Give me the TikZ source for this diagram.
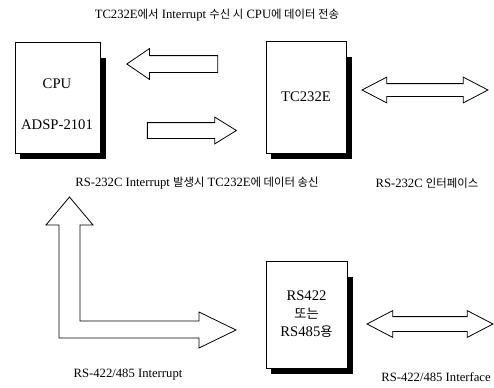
\documentclass[tikz,border=0pt]{standalone}
\usepackage{fontspec}
\setmainfont{Liberation Serif}
\newfontfamily\krfont[Scale=0.9]{Noto Sans CJK KR}
\newcommand{\kr}[1]{{\krfont #1}}
\usetikzlibrary{shapes.arrows,calc}

\tikzset{
  unitbox/.style={draw, line width=0.5pt, fill=white, inner sep=0pt, outer sep=0pt, align=center,
    font=\fontsize{11}{13.5}\selectfont},
  boxtext/.style={inner sep=0pt, font=\fontsize{11}{13.5}\selectfont},
  lbl/.style={inner sep=0pt, font=\fontsize{9.5}{11}\selectfont},
  hollow/.style={draw, line width=0.6pt, fill=white, inner xsep=0pt, outer sep=0pt},
}

% thick black shadow on the right and bottom edge of a box
\newcommand{\boxshadow}[1]{%
  \fill ($(#1.north east)+(0,16)$) rectangle ($(#1.south east)+(6,6)$);
  \fill ($(#1.south west)+(5,0)$) rectangle ($(#1.south east)+(6,6)$);
}

\begin{document}
\begin{tikzpicture}[x=0.75pt, y=-0.75pt]
\useasboundingbox (0,0) rectangle (494,387);

% boxes
\node[unitbox, minimum width=63.75pt, minimum height=83.25pt] (cpu) at (57.5,97.5) {};
\node[unitbox, minimum width=60pt, minimum height=84pt] (tc) at (306,97) {TC232E};
\node[unitbox, minimum width=60.75pt, minimum height=80.25pt] (rs) at (306.5,314.5) {RS422\\\kr{또는}\\RS485\kr{용}};
\boxshadow{cpu}
\boxshadow{tc}
\boxshadow{rs}
\node[boxtext] (cpuname) at (57,84) {CPU};
\node[boxtext] (cpupart) at (57,125) {ADSP-2101};

% block arrows
\node[hollow, single arrow, shape border rotate=180, minimum height=68.25pt, inner ysep=6pt,
  single arrow head extend=5.25pt, single arrow tip angle=68.6] (tocpu) at (178.5,64) {};
\node[hollow, single arrow, minimum height=66.75pt, inner ysep=5.625pt,
  single arrow head extend=4.125pt, single arrow tip angle=63.5] (totc) at (185.5,130.5) {};
\node[hollow, double arrow, minimum height=94.5pt, inner ysep=4.5pt,
  double arrow head extend=4.875pt, double arrow tip angle=55] (rs232) at (425,90) {};
\node[hollow, double arrow, minimum height=94.5pt, inner ysep=5.25pt,
  double arrow head extend=4.5pt, double arrow tip angle=55] (rs485) at (430,324) {};

% interrupt arrow, bent
\draw[hollow] (80,225) -- (80,321) -- (199,321) -- (199,312) -- (236,330) -- (199,348)
  -- (199,338) -- (59,338) -- (59,225) -- (46,225) -- (69.5,197) -- (93,225) -- cycle;

% labels
\node[lbl] (title) at (217,15) {TC232E\kr{에서} Interrupt \kr{수신 시} CPU\kr{에 데이터 전송}};
\node[lbl] (sendlbl) at (197,183) {RS-232C Interrupt \kr{발생시} TC232E\kr{에 데이터 송신}};
\node[lbl] (if232) at (427,183) {RS-232C \kr{인터페이스}};
\node[lbl] (intlbl) at (128,375) {RS-422/485 Interrupt};
\node[lbl] (if485) at (436,377) {RS-422/485 Interface};
\end{tikzpicture}
\end{document}
